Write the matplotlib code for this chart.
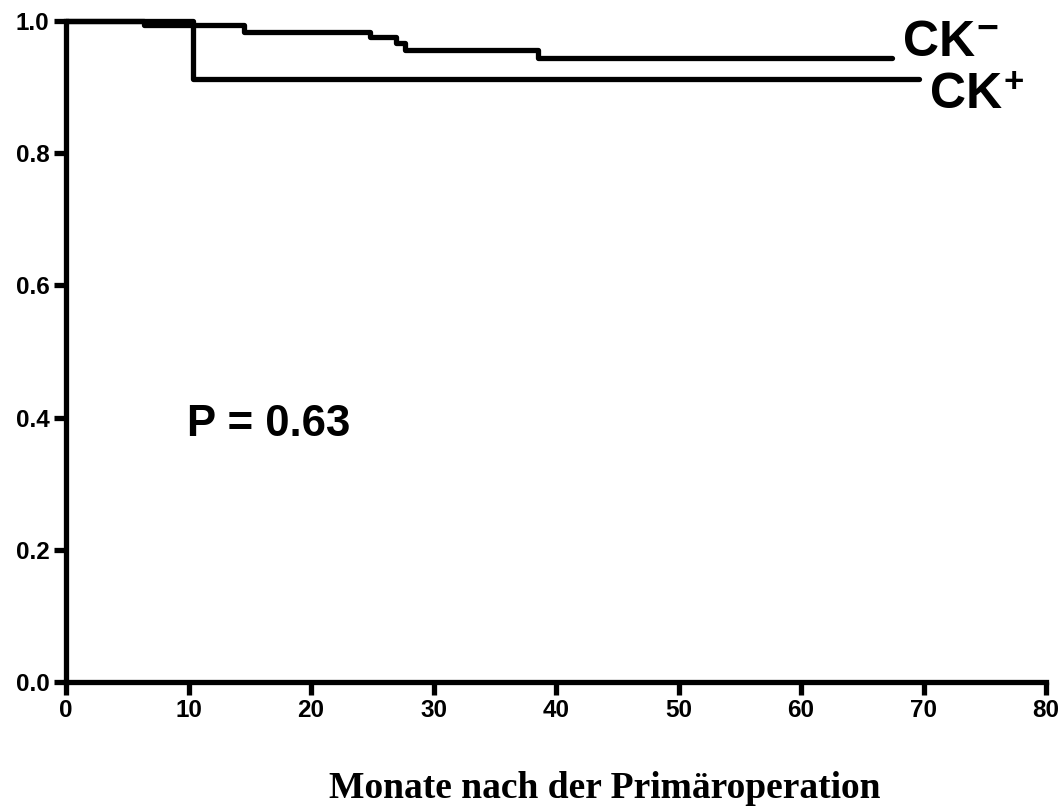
import matplotlib
matplotlib.use("Agg")
import matplotlib.pyplot as plt

# Kaplan-Meier steps
ck_neg_times = [0, 6.4, 14.5, 24.8, 26.9, 27.7, 38.5, 67.4]
ck_neg_surv = [1.0, 0.994, 0.983, 0.976, 0.967, 0.956, 0.944, 0.944]
ck_pos_times = [0, 10.4, 69.6]
ck_pos_surv = [1.0, 0.913, 0.913]

x_ticks = [0, 10, 20, 30, 40, 50, 60, 70, 80]
y_ticks = [0.0, 0.2, 0.4, 0.6, 0.8, 1.0]
y_ticklabels = ["0.0", "0.2", "0.4", "0.6", "0.8", "1.0"]

sans = ["Liberation Sans", "DejaVu Sans"]
plt.rcParams["font.family"] = sans

fig = plt.figure(figsize=(10.64, 8.07), dpi=100)
ax = fig.add_axes([66 / 1064, 1 - 682 / 807, (1046 - 66) / 1064, (682 - 21) / 807])

lw = 3.8
ax.step(ck_neg_times, ck_neg_surv, where="post", color="black", linewidth=lw,
        solid_capstyle="round", clip_on=False)
ax.step(ck_pos_times, ck_pos_surv, where="post", color="black", linewidth=lw,
        solid_capstyle="round", clip_on=False)

ax.set_xlim(0, 80)
ax.set_ylim(0, 1.0)
ax.set_xticks(x_ticks)
ax.set_yticks(y_ticks)
ax.set_yticklabels(y_ticklabels)
for lab in ax.get_xticklabels() + ax.get_yticklabels():
    lab.set_fontweight("bold")
    lab.set_fontsize(17.5)
ax.tick_params(axis="both", direction="out", length=9, width=lw, pad=3)

for side in ["top", "right"]:
    ax.spines[side].set_visible(False)
for side in ["left", "bottom"]:
    ax.spines[side].set_linewidth(lw)

ax.text(9.9, 0.389, "P = 0.63", fontsize=31.5, fontweight="bold", va="center", ha="left")

ax.text(68.3, 0.967, "CK", fontsize=36, fontweight="bold", va="center", ha="left", clip_on=False)
ax.text(74.3, 0.986, "\u2212", fontsize=27, fontweight="bold", va="center", ha="left", clip_on=False)
ax.text(70.5, 0.888, "CK", fontsize=36, fontweight="bold", va="center", ha="left", clip_on=False)
ax.text(76.5, 0.907, "+", fontsize=25, fontweight="bold", va="center", ha="left", clip_on=False)

fig.text(605 / 1064, 1 - 789 / 807, "Monate nach der Primäroperation",
         fontsize=27, fontweight="bold", family="Liberation Serif",
         ha="center", va="center")

fig.savefig("out.png", dpi=100)
